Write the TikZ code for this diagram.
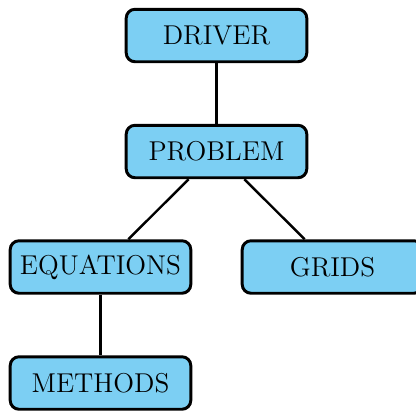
\documentclass[tikz,border=0pt]{standalone}
\usepackage{tikz}
\usetikzlibrary{positioning}
\definecolor{boxblue}{RGB}{124,207,243}

\begin{document}
\begin{tikzpicture}[
  x=0.016cm, y=-0.016cm,
  font=\fontsize{12.4}{15}\selectfont,
  module/.style={draw, line width=1.35pt, rounded corners=4pt, fill=boxblue,
    minimum width=2.89cm, minimum height=0.84cm, inner sep=0pt},
  link/.style={line width=1.1pt},
  ]
  \useasboundingbox (0,0) rectangle (416,411);
  % modules
  \node[module] (driver) at (216.5, 35.5) {DRIVER};
  \node[module] (problem) at (216.5, 151.5) {PROBLEM};
  \node[module] (equations) at (100.5, 267) {EQUATIONS};
  \node[module] (grids) at (332.5, 267) {GRIDS};
  \node[module] (methods) at (100.5, 383) {METHODS};

  % links
  \draw[link] (driver) -- (problem);
  \draw[link] (problem) -- (equations);
  \draw[link] (problem) -- (grids);
  \draw[link] (equations) -- (methods);
\end{tikzpicture}
\end{document}
